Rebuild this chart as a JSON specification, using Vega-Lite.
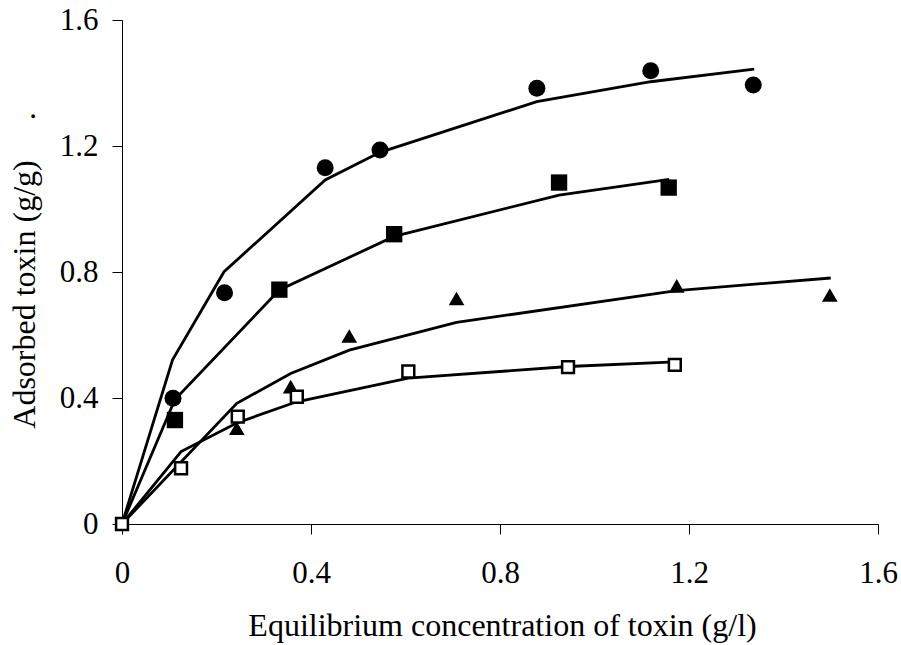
{
  "$schema": "https://vega.github.io/schema/vega-lite/v6.json",
  "width": 756,
  "height": 504,
  "autosize": "none",
  "padding": {"left": 122, "top": 20, "right": 23, "bottom": 121},
  "background": "white",
  "config": {
    "view": {"stroke": null},
    "font": "Liberation Serif",
    "axis": {
      "grid": false,
      "domainColor": "black",
      "domainWidth": 1,
      "tickColor": "black",
      "tickWidth": 1,
      "tickSize": 10,
      "labelFont": "Liberation Serif",
      "labelFontSize": 31,
      "labelColor": "black",
      "titleFont": "Liberation Serif",
      "titleFontSize": 32,
      "titleFontWeight": "normal",
      "titleColor": "black"
    }
  },
  "datasets": {
    "fits": [
      {"series": "A", "c": 0, "q": 0},
      {"series": "A", "c": 0.107, "q": 0.521},
      {"series": "A", "c": 0.216, "q": 0.801},
      {"series": "A", "c": 0.43, "q": 1.092},
      {"series": "A", "c": 0.546, "q": 1.18},
      {"series": "A", "c": 0.878, "q": 1.341},
      {"series": "A", "c": 1.119, "q": 1.404},
      {"series": "A", "c": 1.338, "q": 1.444},
      {"series": "B", "c": 0, "q": 0},
      {"series": "B", "c": 0.112, "q": 0.395},
      {"series": "B", "c": 0.333, "q": 0.743},
      {"series": "B", "c": 0.576, "q": 0.913},
      {"series": "B", "c": 0.925, "q": 1.044},
      {"series": "B", "c": 1.158, "q": 1.094},
      {"series": "C", "c": 0, "q": 0},
      {"series": "C", "c": 0.243, "q": 0.383},
      {"series": "C", "c": 0.357, "q": 0.478},
      {"series": "C", "c": 0.481, "q": 0.552},
      {"series": "C", "c": 0.708, "q": 0.64},
      {"series": "C", "c": 1.174, "q": 0.741},
      {"series": "C", "c": 1.5, "q": 0.781},
      {"series": "D", "c": 0, "q": 0},
      {"series": "D", "c": 0.125, "q": 0.23},
      {"series": "D", "c": 0.245, "q": 0.322},
      {"series": "D", "c": 0.37, "q": 0.388},
      {"series": "D", "c": 0.606, "q": 0.463},
      {"series": "D", "c": 0.945, "q": 0.5},
      {"series": "D", "c": 1.17, "q": 0.515}
    ],
    "points": [
      {"series": "A", "c": 0.108, "q": 0.399},
      {"series": "A", "c": 0.217, "q": 0.734},
      {"series": "A", "c": 0.43, "q": 1.131},
      {"series": "A", "c": 0.546, "q": 1.187},
      {"series": "A", "c": 0.878, "q": 1.383},
      {"series": "A", "c": 1.119, "q": 1.439},
      {"series": "A", "c": 1.336, "q": 1.394},
      {"series": "B", "c": 0.112, "q": 0.33},
      {"series": "B", "c": 0.333, "q": 0.744},
      {"series": "B", "c": 0.576, "q": 0.92},
      {"series": "B", "c": 0.925, "q": 1.084},
      {"series": "B", "c": 1.157, "q": 1.068},
      {"series": "C", "c": 0.243, "q": 0.304},
      {"series": "C", "c": 0.357, "q": 0.436},
      {"series": "C", "c": 0.481, "q": 0.597},
      {"series": "C", "c": 0.708, "q": 0.716},
      {"series": "C", "c": 1.174, "q": 0.756},
      {"series": "C", "c": 1.498, "q": 0.727},
      {"series": "D", "c": 0, "q": 0},
      {"series": "D", "c": 0.125, "q": 0.177},
      {"series": "D", "c": 0.245, "q": 0.341},
      {"series": "D", "c": 0.37, "q": 0.404},
      {"series": "D", "c": 0.606, "q": 0.484},
      {"series": "D", "c": 0.944, "q": 0.498},
      {"series": "D", "c": 1.17, "q": 0.505}
    ]
  },
  "encoding": {
    "x": {
      "field": "c",
      "type": "quantitative",
      "scale": {"domain": [0, 1.6], "nice": false, "zero": false},
      "axis": {
        "values": [0, 0.4, 0.8, 1.2, 1.6],
        "format": ".1~f",
        "labelBaseline": "alphabetic",
        "labelPadding": 48,
        "labelFlush": false,
        "labelOverlap": false,
        "title": "Equilibrium concentration of toxin (g/l)",
        "titleBaseline": "alphabetic",
        "titleY": 111,
        "titleX": 380,
        "titleAnchor": "middle"
      }
    },
    "y": {
      "field": "q",
      "type": "quantitative",
      "scale": {"domain": [0, 1.6], "nice": false, "zero": false},
      "axis": {
        "values": [0, 0.4, 0.8, 1.2, 1.6],
        "format": ".1~f",
        "labelPadding": 14,
        "labelFlush": false,
        "labelOverlap": false,
        "title": "Adsorbed toxin (g/g)\u00a0\u00a0\u00a0\u00a0\u00a0.",
        "titleBaseline": "alphabetic",
        "titleAngle": 270,
        "titleAlign": "center",
        "titleX": -88,
        "titleY": 250
      }
    }
  },
  "layer": [
    {
      "data": {"name": "fits"},
      "mark": {"type": "line", "color": "black", "strokeJoin": "miter", "clip": false},
      "encoding": {
        "detail": {"field": "series", "type": "nominal"},
        "strokeWidth": {
          "field": "series",
          "type": "nominal",
          "scale": {"domain": ["A", "B", "C", "D"], "range": [2.8, 2.8, 2.8, 1]},
          "legend": null
        }
      }
    },
    {
      "data": {"name": "points"},
      "transform": [{"filter": "datum.series !== 'D'"}],
      "mark": {"type": "point", "filled": true, "color": "black", "opacity": 1, "strokeWidth": 0, "clip": false},
      "encoding": {
        "shape": {
          "field": "series",
          "type": "nominal",
          "scale": {"domain": ["A", "B", "C"], "range": ["circle", "square", "triangle-up"]},
          "legend": null
        },
        "size": {
          "field": "series",
          "type": "nominal",
          "scale": {"domain": ["A", "B", "C"], "range": [289, 246, 300]},
          "legend": null
        }
      }
    },
    {
      "data": {"name": "points"},
      "transform": [{"filter": "datum.series === 'D'"}],
      "mark": {"type": "point", "shape": "square", "filled": false, "fill": "white", "fillOpacity": 1, "stroke": "black", "strokeWidth": 2.5, "opacity": 1, "size": 140, "clip": false},
      "encoding": {}
    }
  ]
}
